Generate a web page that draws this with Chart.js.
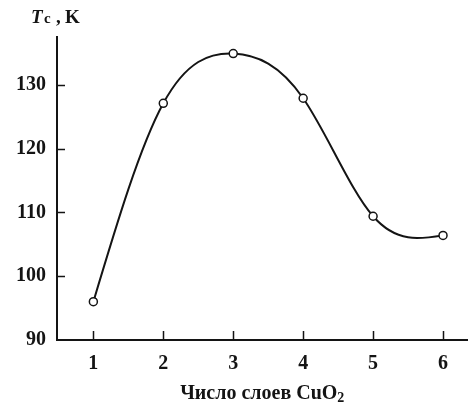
<!DOCTYPE html>
<html>
<head>
<meta charset="utf-8">
<script src="https://cdn.jsdelivr.net/npm/chart.js@4/dist/chart.umd.min.js"></script>
<style>
  html, body { margin: 0; padding: 0; background: #fff; }
  canvas { display: block; }
</style>
</head>
<body>
<canvas id="tcChart" width="473" height="403"></canvas>
<script>
const LAYERS = [1, 2, 3, 4, 5, 6];
const TC = [96.0, 127.1, 134.9, 127.9, 109.4, 106.4];
const X_TICKS = [1, 2, 3, 4, 5, 6];
const Y_TICKS = [90, 100, 110, 120, 130];

const SERIF = "'Liberation Serif', 'Times New Roman', serif";
const INK = "#141414";

// natural cubic spline through the point elements (pixel positions from the scales)
const naturalSpline = {
  id: "naturalSpline",
  beforeDatasetsDraw(chart) {
    const pts = chart.getDatasetMeta(0).data;
    const n = pts.length;
    if (n < 2) return;
    const xs = pts.map((p) => p.x);
    const ys = pts.map((p) => p.y);
    const h = [];
    for (let i = 0; i < n - 1; i++) h.push(xs[i + 1] - xs[i]);

    // second derivatives, ends fixed at 0
    const M = new Array(n).fill(0);
    const a = [], b = [], c = [], d = [];
    for (let i = 1; i < n - 1; i++) {
      a.push(h[i - 1]);
      b.push(2 * (h[i - 1] + h[i]));
      c.push(h[i]);
      d.push(6 * ((ys[i + 1] - ys[i]) / h[i] - (ys[i] - ys[i - 1]) / h[i - 1]));
    }
    const m = b.length;
    for (let i = 1; i < m; i++) {
      const w = a[i] / b[i - 1];
      b[i] -= w * c[i - 1];
      d[i] -= w * d[i - 1];
    }
    for (let i = m - 1; i >= 0; i--) {
      M[i + 1] = (d[i] - (i < m - 1 ? c[i] * M[i + 2] : 0)) / b[i];
    }

    const { ctx } = chart;
    ctx.save();
    ctx.strokeStyle = INK;
    ctx.lineWidth = 2;
    ctx.lineJoin = "round";
    ctx.beginPath();
    ctx.moveTo(xs[0], ys[0]);
    for (let i = 0; i < n - 1; i++) {
      const hi = h[i];
      const slope = (ys[i + 1] - ys[i]) / hi;
      const s0 = slope - (hi * (2 * M[i] + M[i + 1])) / 6;
      const s1 = slope + (hi * (M[i] + 2 * M[i + 1])) / 6;
      ctx.bezierCurveTo(
        xs[i] + hi / 3, ys[i] + (s0 * hi) / 3,
        xs[i + 1] - hi / 3, ys[i + 1] - (s1 * hi) / 3,
        xs[i + 1], ys[i + 1]
      );
    }
    ctx.stroke();
    ctx.restore();
  },
};

// ticks point inward, so draw them ourselves
const innerTicks = {
  id: "innerTicks",
  afterDraw(chart) {
    const { ctx, scales } = chart;
    const x = scales.x, y = scales.y;
    ctx.save();
    ctx.strokeStyle = INK;
    ctx.lineWidth = 1.5;
    ctx.beginPath();
    X_TICKS.forEach((v) => {
      const px = Math.round(x.getPixelForValue(v)) + 0.5;
      ctx.moveTo(px, y.bottom);
      ctx.lineTo(px, y.bottom - 9);
    });
    Y_TICKS.slice(1).forEach((v) => {
      const py = Math.round(y.getPixelForValue(v)) + 0.5;
      ctx.moveTo(x.left, py);
      ctx.lineTo(x.left + 8, py);
    });
    ctx.stroke();
    ctx.restore();
  },
};

const axisTitles = {
  id: "axisTitles",
  afterDraw(chart) {
    const { ctx, scales } = chart;
    ctx.save();
    ctx.fillStyle = INK;
    ctx.textBaseline = "alphabetic";

    // T_c, K
    const ty = 23;
    ctx.font = `italic bold 19px ${SERIF}`;
    ctx.fillText("T", 31, ty);
    ctx.font = `bold 15px ${SERIF}`;
    ctx.fillText("c", 44, ty);
    ctx.font = `bold 19px ${SERIF}`;
    ctx.fillText(",", 56, ty);
    ctx.fillText("K", 65, ty);

    // Число слоев CuO2
    const main = "Число слоев CuO";
    ctx.font = `bold 20px ${SERIF}`;
    const w1 = ctx.measureText(main).width;
    ctx.font = `bold 14px ${SERIF}`;
    const w2 = ctx.measureText("2").width;
    const cx = (scales.x.left + scales.x.right) / 2;
    const sx = cx - (w1 + w2) / 2;
    ctx.font = `bold 20px ${SERIF}`;
    ctx.fillText(main, sx, 399);
    ctx.font = `bold 14px ${SERIF}`;
    ctx.fillText("2", sx + w1, 402);
    ctx.restore();
  },
};

new Chart(document.getElementById("tcChart"), {
  type: "line",
  data: {
    datasets: [
      {
        data: LAYERS.map((n, i) => ({ x: n, y: TC[i] })),
        showLine: false,
        borderColor: INK,
        pointRadius: 4,
        pointBorderWidth: 1.5,
        pointBackgroundColor: "#fff",
        pointBorderColor: INK,
        fill: false,
      },
    ],
  },
  options: {
    responsive: false,
    animation: false,
    events: [],
    layout: { padding: { top: 37, left: 0, right: 0, bottom: 0 } },
    plugins: { legend: { display: false }, tooltip: { enabled: false } },
    scales: {
      x: {
        type: "linear",
        min: 0.48,
        max: 6.35,
        afterBuildTicks(scale) {
          scale.ticks = X_TICKS.map((v) => ({ value: v }));
        },
        afterFit(scale) {
          scale.height = 63;
        },
        grid: { display: false, drawTicks: false },
        border: { display: true, color: INK, width: 2 },
        ticks: {
          padding: 12,
          color: INK,
          maxRotation: 0,
          font: { family: SERIF, size: 20, weight: "bold" },
        },
      },
      y: {
        min: 90,
        max: 137.5,
        afterBuildTicks(scale) {
          scale.ticks = Y_TICKS.map((v) => ({ value: v }));
        },
        afterFit(scale) {
          scale.width = 57;
        },
        grid: { display: false, drawTicks: false },
        border: { display: true, color: INK, width: 2 },
        ticks: {
          padding: 11,
          color: INK,
          font: { family: SERIF, size: 20, weight: "bold" },
        },
      },
    },
  },
  plugins: [naturalSpline, innerTicks, axisTitles],
});
</script>
</body>
</html>
